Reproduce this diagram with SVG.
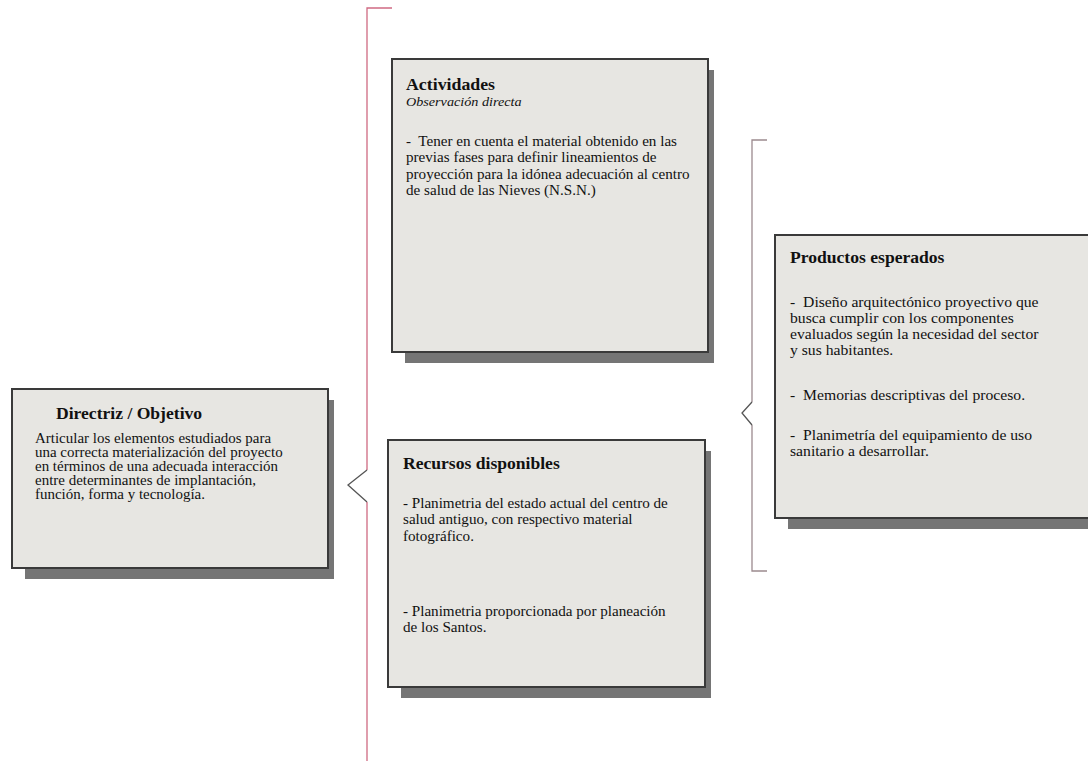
<svg xmlns="http://www.w3.org/2000/svg" width="1088" height="761" viewBox="0 0 1088 761">
<style>
.shadow{fill:#757575}
.box{fill:#e7e6e2;stroke:#3a3a3a;stroke-width:2}
.t{font-family:"Liberation Serif","Times New Roman",serif;fill:#111}
.h{font-weight:bold;font-size:16px}
.b{font-size:14px}
.i{font-style:italic;font-size:13.5px}
.br{fill:none;stroke-width:1.3}
.tip{fill:none;stroke:#555;stroke-width:1.3}
</style>
<rect width="1088" height="761" fill="#ffffff"/>
<g id="connectors">
<path class="br" d="M392,8 H367 V470 M367,502 V761" stroke="#cf6a82"/>
<path class="tip" d="M367,470 L348,485 L367,502"/>
<path class="br" d="M767,140 H752 V402 M752,425 V571 H767" stroke="#9c8a8f"/>
<path class="tip" d="M752,402 L742,413 L752,425"/>
</g>
<g id="directriz">
<rect class="shadow" x="25" y="400" width="309" height="179"/>
<rect class="box" x="12" y="389" width="316" height="179"/>
<text class="t h" transform="translate(56,419) scale(1.1,1)">Directriz / Objetivo</text>
<text class="t b" transform="translate(35,443) scale(1.07,1)">
<tspan x="0" y="0">Articular los elementos estudiados para</tspan>
<tspan x="0" y="14">una correcta materialización del proyecto</tspan>
<tspan x="0" y="28">en términos de una adecuada interacción</tspan>
<tspan x="0" y="42">entre determinantes de implantación,</tspan>
<tspan x="0" y="56">función, forma y tecnología.</tspan>
</text>
</g>
<g id="actividades">
<rect class="shadow" x="405" y="70" width="309" height="293"/>
<rect class="box" x="392" y="59" width="316" height="293"/>
<text class="t h" transform="translate(406,90) scale(1.08,1)" style="font-size:16.5px">Actividades</text>
<text class="t i" transform="translate(406,106) scale(1.05,1)">Observación directa</text>
<text class="t b" transform="translate(406,146) scale(1.08,1)">
<tspan x="0" y="0">-&#160; Tener en cuenta el material obtenido en las</tspan>
<tspan x="0" y="16.5">previas fases para definir lineamientos de</tspan>
<tspan x="0" y="33">proyección para la idónea adecuación al centro</tspan>
<tspan x="0" y="49.5">de salud de las Nieves (N.S.N.)</tspan>
</text>
</g>
<g id="recursos">
<rect class="shadow" x="401" y="451" width="310" height="247"/>
<rect class="box" x="388" y="440" width="317" height="247"/>
<text class="t h" transform="translate(403,469) scale(1.1,1)">Recursos disponibles</text>
<text class="t b" transform="translate(403,508) scale(1.08,1)">
<tspan x="0" y="0">- Planimetria del estado actual del centro de</tspan>
<tspan x="0" y="16.5">salud antiguo, con respectivo material</tspan>
<tspan x="0" y="33">fotográfico.</tspan>
<tspan x="0" y="108">- Planimetria proporcionada por planeación</tspan>
<tspan x="0" y="124.5">de los Santos.</tspan>
</text>
</g>
<g id="productos">
<rect class="shadow" x="788" y="246" width="320" height="283"/>
<rect class="box" x="775" y="235" width="330" height="283"/>
<text class="t h" transform="translate(790,263) scale(1.1,1)">Productos esperados</text>
<text class="t b" transform="translate(790,307) scale(1.12,1)">
<tspan x="0" y="0">-&#160; Diseño arquitectónico proyectivo que</tspan>
<tspan x="0" y="16">busca cumplir con los componentes</tspan>
<tspan x="0" y="32">evaluados según la necesidad del sector</tspan>
<tspan x="0" y="48">y sus habitantes.</tspan>
<tspan x="0" y="93">-&#160; Memorias descriptivas del proceso.</tspan>
<tspan x="0" y="133">-&#160; Planimetría del equipamiento de uso</tspan>
<tspan x="0" y="149">sanitario a desarrollar.</tspan>
</text>
</g>
</svg>
